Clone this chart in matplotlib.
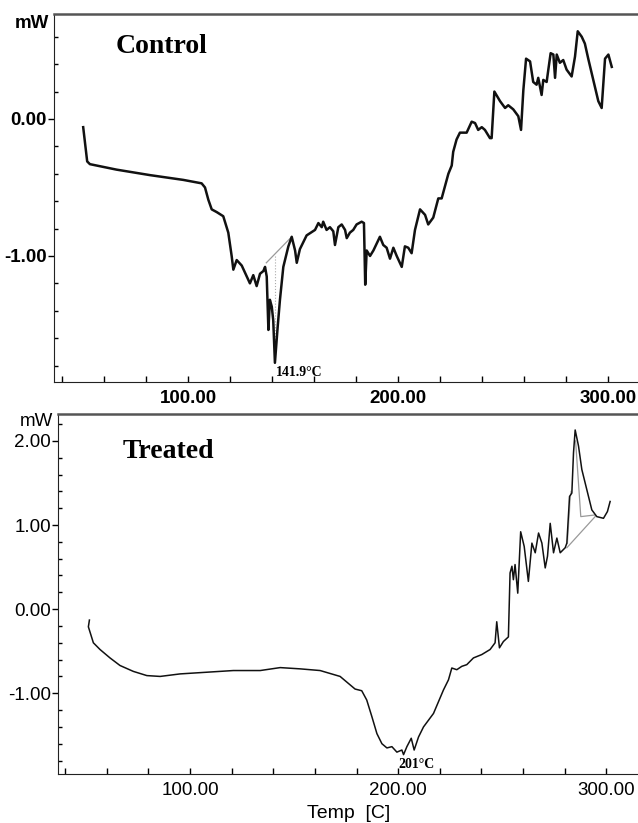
import matplotlib
matplotlib.use("Agg")
import matplotlib.pyplot as plt
from matplotlib.ticker import MultipleLocator, FixedLocator, FormatStrFormatter

# Control DSC trace (temp in C, heat flow in mW)
control_temp = [50.1, 52.0, 53.3, 66.0, 81.9, 97.8, 106.5, 108.1, 109.7, 111.3, 113.7, 116.8,
                119.2, 120.8, 121.6, 123.2, 125.6, 128.0, 129.5, 131.1, 132.7, 134.3, 135.9,
                136.7, 137.5, 138.3, 139.0, 139.9, 140.6, 141.4, 142.7, 143.8, 145.4, 147.8,
                149.4, 151.0, 151.8, 153.3, 156.5, 160.5, 162.1, 163.7, 164.4, 166.0, 167.6,
                169.2, 170.0, 171.6, 173.2, 174.8, 175.6, 177.1, 178.7, 180.3, 182.7, 183.8,
                184.4, 185.1, 186.7, 188.3, 191.4, 193.0, 194.6, 196.2, 197.8, 199.4, 201.8,
                203.3, 204.9, 206.5, 208.1, 210.5, 212.9, 214.4, 216.8, 219.2, 220.8, 222.4,
                224.0, 225.6, 226.3, 227.9, 229.5, 232.7, 235.1, 236.7, 238.2, 239.9, 241.4,
                243.8, 244.6, 245.9, 248.6, 251.0, 252.5, 254.9, 257.3, 258.6, 259.7, 261.0,
                262.9, 264.4, 266.0, 266.8, 268.4, 269.2, 270.8, 271.6, 272.7, 274.0, 274.8,
                275.6, 277.1, 278.7, 280.3, 282.7, 284.3, 285.6, 287.5, 289.0, 290.6, 293.0,
                295.4, 297.0, 298.6, 300.2, 301.8]
control_mw = [-0.06, -0.31, -0.33, -0.37, -0.41, -0.445, -0.47, -0.50, -0.59, -0.66, -0.68, -0.71,
              -0.83, -1.00, -1.10, -1.03, -1.07, -1.15, -1.20, -1.14, -1.22, -1.13, -1.11,
              -1.08, -1.15, -1.54, -1.32, -1.37, -1.47, -1.78, -1.52, -1.32, -1.08, -0.93,
              -0.86, -0.96, -1.05, -0.95, -0.85, -0.81, -0.76, -0.79, -0.75, -0.81, -0.79,
              -0.82, -0.92, -0.79, -0.77, -0.81, -0.87, -0.83, -0.81, -0.77, -0.75, -0.76,
              -1.21, -0.96, -1.00, -0.96, -0.86, -0.92, -0.94, -1.02, -0.94, -1.00, -1.08,
              -0.93, -0.94, -0.98, -0.81, -0.66, -0.70, -0.77, -0.72, -0.58, -0.58, -0.49,
              -0.40, -0.34, -0.24, -0.15, -0.10, -0.10, -0.02, -0.03, -0.08, -0.06, -0.08,
              -0.14, -0.14, 0.20, 0.13, 0.08, 0.10, 0.07, 0.02, -0.08, 0.21, 0.44,
              0.42, 0.27, 0.25, 0.30, 0.175, 0.285, 0.27, 0.36, 0.48, 0.47, 0.30,
              0.47, 0.41, 0.43, 0.36, 0.31, 0.455, 0.64, 0.60, 0.55, 0.44, 0.285,
              0.13, 0.08, 0.44, 0.47, 0.38]

# Treated DSC trace
treated_temp = [51.6, 51.1, 53.5, 56.7, 61.5, 66.3, 72.7, 79.2, 85.6, 95.2, 104.8, 120.8, 133.7,
                143.3, 152.9, 162.5, 172.1, 179.3, 182.5, 184.9, 187.4, 189.8, 192.2, 194.6,
                197.0, 199.4, 201.8, 202.6, 204.2, 206.3, 207.7, 209.8, 212.2, 214.6, 217.0,
                219.4, 221.8, 224.2, 225.8, 228.2, 230.6, 233.0, 236.2, 240.2, 244.2, 246.6,
                247.4, 248.7, 250.6, 253.0, 253.8, 254.7, 255.4, 256.2, 257.5, 258.9, 260.6,
                262.6, 264.3, 265.9, 267.5, 269.1, 270.7, 271.8, 273.1, 274.7, 276.3, 277.9,
                280.3, 281.1, 282.4, 283.5, 284.3, 285.1, 286.7, 288.3, 290.7, 293.1, 295.5,
                298.7, 300.6, 301.9]
treated_mw = [-0.13, -0.21, -0.40, -0.48, -0.58, -0.67, -0.74, -0.79, -0.80, -0.77, -0.755, -0.73,
              -0.73, -0.695, -0.71, -0.73, -0.80, -0.95, -0.97, -1.08, -1.28, -1.48, -1.60,
              -1.65, -1.635, -1.70, -1.675, -1.73, -1.635, -1.535, -1.675, -1.52, -1.40,
              -1.32, -1.24, -1.10, -0.96, -0.84, -0.70, -0.72, -0.68, -0.66, -0.58, -0.54,
              -0.48, -0.40, -0.15, -0.46, -0.385, -0.33, 0.43, 0.51, 0.35, 0.53, 0.19,
              0.92, 0.745, 0.33, 0.785, 0.67, 0.905, 0.785, 0.49, 0.63, 1.02, 0.67, 0.845,
              0.67, 0.73, 0.785, 1.34, 1.38, 1.86, 2.13, 1.94, 1.66, 1.42, 1.18, 1.10,
              1.08, 1.16, 1.28]

# peak construction lines
control_base_t = [137.3, 149.4]
control_base_mw = [-1.05, -0.86]
control_drop_t = [141.4, 141.4]
control_drop_mw = [-1.00, -1.76]
treated_base_t = [281.1, 294.7]
treated_base_mw = [0.73, 1.10]
treated_drop_t = [285.3, 287.8, 294.7]
treated_drop_mw = [2.00, 1.10, 1.12]
treated_side_t = [281.4, 283.0]
treated_side_mw = [0.78, 1.40]

fig = plt.figure(figsize=(6.38, 8.23), dpi=100)
ax1 = fig.add_axes([54 / 638, 1 - 382 / 823, 1 - 54 / 638, 368 / 823])
ax2 = fig.add_axes([58 / 638, 1 - 774 / 823, 1 - 58 / 638, 360 / 823])


def style_axis(ax, xlo, xhi, ylo, yhi, yticks, bold):
    ax.set_xlim(xlo, xhi)
    ax.set_ylim(ylo, yhi)
    ax.xaxis.set_major_locator(FixedLocator([100, 200, 300]))
    ax.xaxis.set_minor_locator(MultipleLocator(20))
    ax.yaxis.set_major_locator(FixedLocator(yticks))
    ax.yaxis.set_minor_locator(MultipleLocator(0.2))
    ax.xaxis.set_major_formatter(FormatStrFormatter("%.2f"))
    ax.yaxis.set_major_formatter(FormatStrFormatter("%.2f"))
    ax.tick_params(axis="x", which="both", direction="in", length=4, width=1, pad=6)
    ax.tick_params(axis="y", which="major", direction="out", length=4, width=1, pad=1)
    ax.tick_params(axis="y", which="minor", direction="in", length=3, width=1)
    w = "bold" if bold else "normal"
    for lab in ax.get_xticklabels() + ax.get_yticklabels():
        lab.set_fontfamily("Liberation Sans")
        lab.set_fontsize(13.5)
        lab.set_fontweight(w)
    ax.spines["right"].set_visible(False)
    ax.spines["top"].set_color("#555555")
    ax.spines["top"].set_linewidth(1.8)
    ax.spines["left"].set_color("#222222")
    ax.spines["bottom"].set_color("#222222")


style_axis(ax1, 36.2, 314.3, -1.92, 0.766, [0.0, -1.0], True)
style_axis(ax2, 36.5, 315.3, -1.96, 2.32, [2.0, 1.0, 0.0, -1.0], False)

ax1.plot(control_base_t, control_base_mw, color="#999999", lw=0.9)
ax1.plot(control_drop_t, control_drop_mw, color="#aaaaaa", lw=0.8, ls=":")
ax1.plot(control_temp, control_mw, color="#111111", lw=1.8)

ax2.plot(treated_base_t, treated_base_mw, color="#999999", lw=0.9)
ax2.plot(treated_drop_t, treated_drop_mw, color="#999999", lw=0.9)
ax2.plot(treated_side_t, treated_side_mw, color="#bbbbbb", lw=0.8)
ax2.plot(treated_temp, treated_mw, color="#111111", lw=1.1)

serif = "Liberation Serif"
ax1.text(0.105, 0.913, "Control", transform=ax1.transAxes, fontsize=20, fontweight="bold",
         family=serif, va="center", ha="left")
ax2.text(0.112, 0.895, "Treated", transform=ax2.transAxes, fontsize=20, fontweight="bold",
         family=serif, va="center", ha="left")
ax1.text(142.0, -1.85, "141.9°C", fontsize=10, fontweight="bold", family=serif,
         va="center", ha="left")
ax2.text(208.6, -1.85, "201°C", fontsize=10, fontweight="bold", family=serif,
         va="center", ha="center")

fig.text(15 / 638, 1 - 24 / 823, "mW", fontsize=13.5, fontweight="bold",
         family="Liberation Sans", va="center", ha="left")
fig.text(20 / 638, 1 - 422 / 823, "mW", fontsize=13.5, family="Liberation Sans",
         va="center", ha="left")
fig.text(349 / 638, 1 - 813 / 823, "Temp  [C]", fontsize=14, family="Liberation Sans",
         va="center", ha="center")

fig.savefig("out.png", dpi=100)
